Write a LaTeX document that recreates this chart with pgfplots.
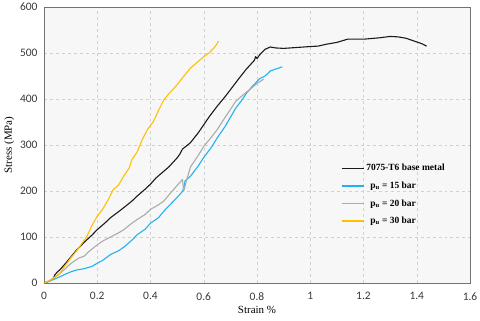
\documentclass[border=0pt]{standalone}
\usepackage{pgfplots}
\pgfplotsset{compat=1.18}
\usepackage{fontspec}
\setmainfont{Liberation Serif}
\newfontfamily\carlito{Carlito}

\definecolor{cbase}{HTML}{1A1A1A}
\definecolor{c15}{HTML}{1FB4F0}
\definecolor{c20}{HTML}{ABABAB}
\definecolor{c30}{HTML}{FFC000}
\definecolor{plotbg}{HTML}{F7F7F7}

\begin{document}
\begin{tikzpicture}
\begin{axis}[
  scale only axis,
  width=426bp, height=276bp,
  xmin=0, xmax=1.6, ymin=0, ymax=600,
  xtick={0,0.2,...,1.6},
  xticklabels={0,0.2,0.4,0.6,0.8,1,1.2,1.4,1.6},
  ytick={0,100,...,600},
  axis background/.style={fill=plotbg},
  axis line style={draw=black!55, line width=0.8pt},
  major tick length=0pt,
  grid=major, grid style={black!18, dashed, line width=0.4pt},
  tick label style={font=\carlito\fontsize{11.5}{13}\selectfont, text=black!78},
  xticklabel style={yshift=-6bp},
  yticklabel style={xshift=-3bp},
  /pgf/number format/assume math mode=true,
  xlabel={Strain \%}, ylabel={Stress (MPa)},
  label style={font=\fontsize{11}{13}\selectfont},
  xlabel style={yshift=1bp},
  ylabel style={yshift=-1bp},
  legend style={at={(0.69,0.445)}, anchor=north west, draw=none, fill=none,
                font=\bfseries\fontsize{9.5}{11}\selectfont, row sep=5.5bp,
                cells={anchor=west}},
  legend image code/.code={\draw[#1, line width=1.2pt] (0bp,0bp) -- (22bp,0bp);},
  every axis plot/.append style={line width=1.1pt, line join=round},
]
\addplot[draw=cbase] coordinates {
 (0,0) (0.02,4) (0.035,10) (0.04,17) (0.05,24) (0.06,29) (0.08,42) (0.1,56)
 (0.12,70) (0.15,88) (0.18,104) (0.2,116) (0.23,131) (0.25,142) (0.28,155)
 (0.3,164) (0.33,178) (0.35,189) (0.38,204) (0.4,215) (0.42,228) (0.45,243)
 (0.47,253) (0.5,272) (0.51,280) (0.52,291) (0.55,305) (0.58,327) (0.6,344)
 (0.62,361) (0.65,384) (0.68,405) (0.7,420) (0.73,443) (0.76,465) (0.79,484)
 (0.795,492) (0.8,488) (0.81,496) (0.83,508) (0.85,513) (0.87,511) (0.9,510)
 (0.95,512) (1.0,514) (1.03,515) (1.06,519) (1.1,523) (1.14,530) (1.2,530)
 (1.26,533) (1.3,536) (1.33,535) (1.36,532) (1.39,526) (1.42,520) (1.437,515) };
\addplot[draw=c15] coordinates {
 (0,0) (0.02,4) (0.05,11) (0.08,19) (0.1,24) (0.12,28) (0.15,31) (0.18,36)
 (0.2,43) (0.22,49) (0.25,62) (0.28,70) (0.3,78) (0.33,93) (0.35,105)
 (0.38,117) (0.4,130) (0.43,142) (0.45,156) (0.48,174) (0.5,186) (0.52,199)
 (0.525,207) (0.53,222) (0.55,232) (0.58,255) (0.6,273) (0.63,296) (0.65,315)
 (0.68,340) (0.7,360) (0.72,380) (0.74,395) (0.76,412) (0.78,426) (0.8,438)
 (0.81,444) (0.83,450) (0.84,455) (0.85,461) (0.87,465) (0.895,470) };
\addplot[draw=c20] coordinates {
 (0,0) (0.02,5) (0.05,16) (0.08,31) (0.1,42) (0.13,54) (0.15,58) (0.17,69)
 (0.2,83) (0.22,91) (0.25,100) (0.28,109) (0.3,116) (0.33,130) (0.35,138)
 (0.38,149) (0.4,160) (0.43,170) (0.45,178) (0.47,192) (0.5,212) (0.52,225)
 (0.525,200) (0.535,222) (0.55,252) (0.58,278) (0.6,297) (0.63,318) (0.65,333)
 (0.68,360) (0.7,377) (0.72,395) (0.75,410) (0.78,424) (0.8,434) (0.825,443) };
\addplot[draw=c30] coordinates {
 (0,0) (0.02,5) (0.04,12) (0.06,22) (0.08,38) (0.1,54) (0.12,68) (0.14,84)
 (0.16,100) (0.18,125) (0.2,145) (0.22,160) (0.24,180) (0.26,203) (0.28,213)
 (0.3,233) (0.32,250) (0.33,268) (0.35,285) (0.37,313) (0.39,335) (0.41,350)
 (0.43,375) (0.45,398) (0.47,412) (0.5,431) (0.52,446) (0.55,467) (0.58,482)
 (0.6,492) (0.62,500) (0.64,512) (0.65,520) (0.655,526) };
\legend{7075-T6 base metal, \ \,p\textsubscript{u} = 15 bar,
        \ \,p\textsubscript{u} = 20 bar, \ \,p\textsubscript{u} = 30 bar}
\end{axis}
\pgfresetboundingbox
\path[use as bounding box] (current axis.south west) ++(-44bp,-38bp)
  rectangle ([shift={(10bp,7bp)}]current axis.north east);
\end{tikzpicture}
\end{document}
